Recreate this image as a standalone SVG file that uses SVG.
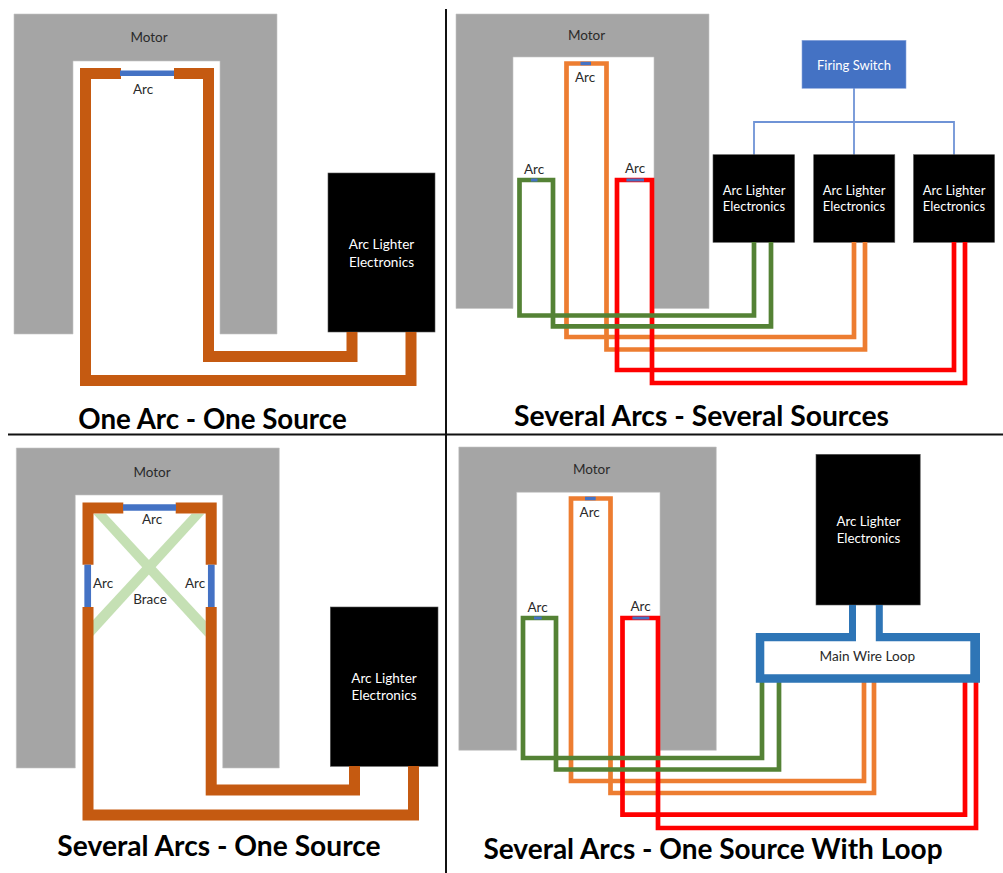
<svg xmlns="http://www.w3.org/2000/svg" width="1003" height="873" viewBox="0 0 1003 873">
<style>
text{font-family:Lato,"Open Sans","Liberation Sans",sans-serif;text-anchor:middle}
.l{font-size:13.5px;fill:#2a2a2a}
.w{font-size:13px;fill:#fff}
.w2{font-size:13.6px;fill:#fff}
.t{font-size:27.7px;font-weight:700;fill:#000}
.m{fill:#a5a5a5;stroke:#c4c4c4;stroke-width:.6}
.b{fill:#000;stroke:#555;stroke-width:.6}
path,polyline,line{fill:none}
.cu{stroke:#c55a11;stroke-width:11;stroke-linejoin:miter}
.og{stroke:#ed7d31;stroke-width:4.7}
.gr{stroke:#548235;stroke-width:4.7}
.rd{stroke:#f00;stroke-width:4.7}
.ar{stroke:#4472c4}
.sw{stroke:#6f93d6;stroke-width:1.8}
.dv{stroke:#111;stroke-width:2}
</style>
<rect width="1003" height="873" fill="#fff"/>
<g id="dividers"><line class="dv" x1="446" y1="9" x2="446" y2="873"/><line class="dv" x1="8" y1="434.5" x2="1003" y2="434.5"/></g>

<g id="panel-one-arc">
<g id="motor-1"><path class="m" style="fill:#a5a5a5" d="M14 14H277V334H220V61H73V334H14Z"/><text class="l" x="149" y="42">Motor</text></g>
<g id="electronics-1"><rect class="b" x="328" y="173" width="107" height="159"/><text class="w2" x="381.500" y="248.500">Arc Lighter</text><text class="w2" x="381.500" y="266.500">Electronics</text></g>
<g id="connectors-1">
<polyline class="cu" points="121,73.5 85.5,73.5 85.5,380.5 411,380.5 411,332"/>
<polyline class="cu" points="174,73.5 208.5,73.5 208.5,356.5 352,356.5 352,332"/>
<line class="ar" stroke-width="5.500" x1="120" y1="73.200" x2="174" y2="73.200"/>
</g>
<text class="l" x="143" y="93.500">Arc</text>
<text class="t" x="212.500" y="429">One Arc - One Source</text>
</g>

<g id="panel-several-sources">
<g id="motor-2"><path class="m" style="fill:#a5a5a5" d="M456 14H709V308.500H654V57H513V308.500H456Z"/><text class="l" x="586.500" y="39.500">Motor</text></g>
<g id="firing-switch"><rect x="802" y="40.300" width="104" height="48" fill="#4472c4" stroke="#8aa6dc" stroke-width=".6"/><text class="w" x="854" y="69.500">Firing Switch</text></g>
<g id="switch-wiring"><path class="sw" d="M854 88V155M754 155V122H954V155"/></g>
<g id="electronics-2a"><rect class="b" x="713" y="154.700" width="81.600" height="87.600"/><text class="w" x="754" y="195">Arc Lighter</text><text class="w" x="754" y="211">Electronics</text></g>
<g id="electronics-2b"><rect class="b" x="813.700" y="154.700" width="81.100" height="87.600"/><text class="w" x="854" y="195">Arc Lighter</text><text class="w" x="854" y="211">Electronics</text></g>
<g id="electronics-2c"><rect class="b" x="913.500" y="154.700" width="81.100" height="87.600"/><text class="w" x="954" y="195">Arc Lighter</text><text class="w" x="954" y="211">Electronics</text></g>
<g id="connectors-2">
<polyline class="og" points="854,242 854,337 566.500,337 566.500,63.500 606.500,63.500 606.500,349.500 865,349.500 865,242"/>
<line class="ar" stroke-width="3.500" x1="580.500" y1="63.500" x2="591" y2="63.500"/>
<polyline class="rd" points="954,242 954,370 617,370 617,180 652,180 652,383 965,383 965,242"/>
<line class="ar" stroke-width="3" x1="626.400" y1="180" x2="644" y2="180"/>
<polyline class="gr" points="754,242 754,315.500 519.500,315.500 519.500,180 553,180 553,326.300 771,326.300 771,242"/>
<line class="ar" stroke-width="3" x1="531" y1="180" x2="537.500" y2="180"/>
</g>
<text class="l" x="585" y="81.500">Arc</text><text class="l" x="534" y="173.500">Arc</text><text class="l" x="635" y="172.500">Arc</text>
<text class="t" x="701.500" y="425.500" style="font-size:28.300px">Several Arcs - Several Sources</text>
</g>

<g id="panel-several-arcs">
<g id="motor-3"><path class="m" style="fill:#a5a5a5" d="M16.300 448H279.300V768H222.700V495H75.300V768H16.300Z"/><text class="l" x="152" y="476.500">Motor</text></g>
<g id="brace"><polygon fill="#c5e0b4" points="93.300,513.700 106,513.700 205.700,621 205.700,636.700"/><polygon fill="#c5e0b4" points="204.300,513.700 191.700,513.700 92.300,621 92.300,636.700"/><text class="l" x="150" y="603.500">Brace</text></g>
<g id="electronics-3"><rect class="b" x="330.300" y="607" width="107.700" height="159.300"/><text class="w2" x="384" y="682.500">Arc Lighter</text><text class="w2" x="384" y="699.500">Electronics</text></g>
<g id="connectors-3">
<polyline class="cu" points="123.300,508 88,508 88,564.700"/>
<polyline class="cu" points="175.700,508 211.200,508 211.200,564.700"/>
<polyline class="cu" points="88,607 88,815 413.500,815 413.500,766"/>
<polyline class="cu" points="211.200,607 211.200,790 354.500,790 354.500,766"/>
<line class="ar" stroke-width="6.500" x1="123" y1="507.500" x2="176" y2="507.500"/>
<line class="ar" stroke-width="6.700" x1="87.700" y1="564.700" x2="87.700" y2="607"/>
<line class="ar" stroke-width="6.700" x1="211.300" y1="564.700" x2="211.300" y2="607"/>
</g>
<text class="l" x="152" y="523.500">Arc</text><text class="l" x="103" y="587.500">Arc</text><text class="l" x="195" y="587.500">Arc</text>
<text class="t" x="219" y="855.500" style="font-size:28.200px">Several Arcs - One Source</text>
</g>

<g id="panel-loop">
<g id="motor-4"><path class="m" style="fill:#a5a5a5" d="M458.800 447H716.300V750.300H660V492.300H516.700V750.300H458.800Z"/><text class="l" x="591.500" y="474">Motor</text></g>
<g id="electronics-4"><rect class="b" x="816" y="454.300" width="104.200" height="150.700"/><text class="w2" x="868.500" y="525.500" style="font-size:13.300px">Arc Lighter</text><text class="w2" x="868.500" y="542.500" style="font-size:13.300px">Electronics</text></g>
<g id="connectors-4">
<polyline class="og" points="864,682 864,781 571,781 571,498.500 610.500,498.500 610.500,793 874,793 874,682"/>
<line class="ar" stroke-width="3.500" x1="585" y1="498.500" x2="595.700" y2="498.500"/>
<polyline class="rd" points="965,682 965,814.700 622.500,814.700 622.500,618 658,618 658,828 976,828 976,682"/>
<line class="ar" stroke-width="3" x1="632.400" y1="618" x2="649.300" y2="618"/>
<polyline class="gr" points="762,682 762,758 523,758 523,618 556,618 556,769.500 779,769.500 779,682"/>
<line class="ar" stroke-width="3" x1="534" y1="618" x2="541.700" y2="618"/>
</g>
<g id="main-wire-loop"><path fill-rule="evenodd" d="M849 605H856V633V641.300H875.800V633V605H882.800V633H980V682.700H755.800V633H849ZM764.300 641.300V674.300H970.300V641.300Z" style="fill:#2e75b6"/><text class="l" x="867.300" y="660.500" style="font-size:13.600px">Main Wire Loop</text></g>
<text class="l" x="589.700" y="516.500">Arc</text><text class="l" x="537.500" y="612">Arc</text><text class="l" x="640.500" y="610.500">Arc</text>
<text class="t" x="713" y="859" style="font-size:28px">Several Arcs - One Source With Loop</text>
</g>
</svg>
